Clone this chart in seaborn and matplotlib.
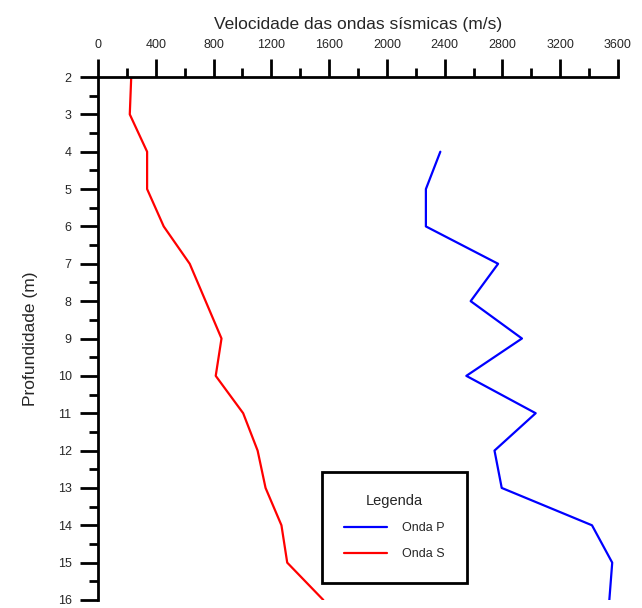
import numpy as np
import pandas as pd
import matplotlib
matplotlib.use('Agg')
import matplotlib.pyplot as plt
from matplotlib.ticker import MultipleLocator
import seaborn as sns

# profundidades (m)
prof_p = [4, 5, 6, 7, 8, 9, 10, 11, 12, 13, 14, 15, 16]
prof_s = [2, 3, 4, 5, 6, 7, 8, 9, 10, 11, 12, 13, 14, 15, 16]

# velocidades (m/s)
vel_p = [2370, 2270, 2270, 2770, 2580, 2935, 2550, 3030, 2745, 2795, 3420, 3560, 3540]
vel_s = [230, 220, 340, 340, 455, 635, 745, 855, 815, 1005, 1105, 1160, 1270, 1310, 1560]

df = pd.concat([
    pd.DataFrame({'Profundidade': prof_p, 'Velocidade': vel_p, 'Onda': 'Onda P'}),
    pd.DataFrame({'Profundidade': prof_s, 'Velocidade': vel_s, 'Onda': 'Onda S'}),
])

sns.set_style("ticks")
plt.rcParams['font.family'] = ['Liberation Sans', 'DejaVu Sans']

fig = plt.figure(figsize=(6.42, 6.08), dpi=100)
ax = fig.add_axes([98 / 642, 1 - 600 / 608, 520 / 642, 523 / 608])

sns.lineplot(data=df, x='Velocidade', y='Profundidade', hue='Onda',
             palette={'Onda P': '#0000ff', 'Onda S': '#ff0000'},
             sort=False, estimator=None, linewidth=1.6, ax=ax)

ax.set_xlim(0, 3600)
ax.set_ylim(16, 2)
ax.xaxis.set_major_locator(MultipleLocator(400))
ax.xaxis.set_minor_locator(MultipleLocator(200))
ax.yaxis.set_major_locator(MultipleLocator(1))
ax.yaxis.set_minor_locator(MultipleLocator(0.5))

ax.xaxis.tick_top()
ax.xaxis.set_label_position('top')
for s in ['right', 'bottom']:
    ax.spines[s].set_visible(False)
for s in ['top', 'left']:
    ax.spines[s].set_linewidth(2)
    ax.spines[s].set_color('black')

ax.tick_params(which='major', direction='out', length=13, width=2, color='black',
               labelsize=9, pad=6)
ax.tick_params(which='minor', direction='out', length=6.5, width=2, color='black')

ax.set_xlabel('Velocidade das ondas sísmicas (m/s)', fontsize=12.5, labelpad=7)
ax.set_ylabel('Profundidade (m)', fontsize=12.5, labelpad=14)

leg = ax.legend(title='Legenda', loc='upper left',
                bbox_to_anchor=(322 / 642, 1 - 472 / 608),
                bbox_transform=fig.transFigure,
                fontsize=9, title_fontsize=10.5, frameon=True, fancybox=False,
                framealpha=1, borderpad=1.8, handlelength=3.4, handletextpad=1.2,
                labelspacing=1.1, borderaxespad=0)
leg.get_frame().set_edgecolor('black')
leg.get_frame().set_linewidth(2)
leg._legend_box.align = 'center'

fig.savefig('out.png', dpi=100)
